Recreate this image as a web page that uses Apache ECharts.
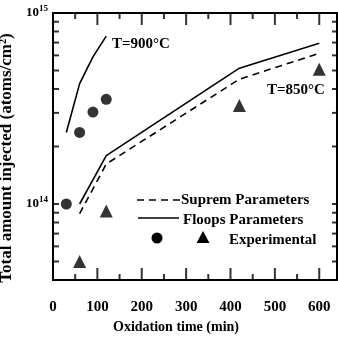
<!DOCTYPE html>
<html>
<head>
<meta charset="utf-8">
<script src="https://cdn.jsdelivr.net/npm/echarts@6/dist/echarts.min.js"></script>
<style>
html,body{margin:0;padding:0;background:#fff;}
#chart{width:338px;height:350px;}
</style>
</head>
<body>
<div id="chart"></div>
<script>
// ---- data ----
const xLabelValues = [0, 100, 200, 300, 400, 500, 600];
const xMajorTicks = [100, 200, 300, 400, 500, 600];
const xMinorTicks = [50, 150, 250, 350, 450, 550];
const yLabelValues = [1e14, 1e15];
const yTickValues = [5e13, 6e13, 7e13, 8e13, 9e13, 1e14, 2e14, 3e14, 4e14, 5e14, 6e14, 7e14, 8e14, 9e14];

const time850 = [60, 120, 420, 600];
const suprem850 = [8.9e13, 1.62e14, 4.5e14, 6.15e14];
const floops850 = [1.0e14, 1.79e14, 5.14e14, 6.95e14];

const time900 = [30, 60, 90, 120];
const floops900 = [2.37e14, 4.27e14, 5.89e14, 7.57e14];

const expTime900 = [30, 60, 90, 120];
const exp900 = [1.0e14, 2.37e14, 3.03e14, 3.53e14];

const expTime850 = [60, 120, 420, 600];
const exp850 = [5.0e13, 9.2e13, 3.28e14, 5.07e14];

const X_MIN = 0, X_MAX = 640, Y_MIN = 4e13, Y_MAX = 1e15;

const zip = (a, b) => a.map((v, i) => [v, b[i]]);

const FONT = 'Liberation Serif';
const black = '#000';
const LINE = { color: black, width: 2 };

const xAxes = [
  {
    type: 'value', position: 'bottom', min: X_MIN, max: X_MAX,
    axisLine: { show: true, onZero: false, lineStyle: LINE },
    axisTick: { show: false },
    axisLabel: { show: true, customValues: xLabelValues, margin: 20,
      fontFamily: FONT, fontWeight: 'bold', fontSize: 15, color: black },
    splitLine: { show: false },
    name: 'Oxidation time (min)', nameLocation: 'middle', nameGap: 36,
    nameTextStyle: { fontFamily: FONT, fontWeight: 'bold', fontSize: 14, color: black, padding: [0, 38, 0, 0] }
  },
  {
    type: 'value', position: 'top', min: X_MIN, max: X_MAX,
    axisLine: { show: true, onZero: false, lineStyle: LINE },
    axisTick: { show: false }, axisLabel: { show: false }, splitLine: { show: false }
  }
];

const yAxes = [
  {
    type: 'log', logBase: 10, position: 'left', min: Y_MIN, max: Y_MAX,
    axisLine: { show: true, onZero: false, lineStyle: LINE },
    axisTick: { show: false },
    axisLabel: {
      show: true, customValues: yLabelValues.map(v => v * 0.99999), margin: 5,
      formatter: v => '{b|10}{s|' + Math.round(Math.log10(v)) + '}',
      rich: {
        b: { fontFamily: FONT, fontWeight: 'bold', fontSize: 13, color: black },
        s: { fontFamily: FONT, fontWeight: 'bold', fontSize: 9, color: black, padding: [0, 0, 8, 0] }
      }
    },
    splitLine: { show: false },
    name: 'Total amount injected (atoms/cm²)', nameLocation: 'middle', nameGap: 28,
    nameTextStyle: { fontFamily: FONT, fontWeight: 'bold', fontSize: 17, color: black, padding: [0, 23, 0, 0] }
  },
  {
    type: 'log', logBase: 10, position: 'right', min: Y_MIN, max: Y_MAX,
    axisLine: { show: true, onZero: false, lineStyle: LINE },
    axisTick: { show: false }, axisLabel: { show: false }, splitLine: { show: false }
  }
];

// inward tick marks drawn as thin rectangle symbols placed by the axes' own scales
function tickSeries(data, size, offset) {
  return {
    type: 'scatter', silent: true, clip: false, z: 6,
    symbol: 'rect', symbolSize: size, symbolOffset: offset,
    itemStyle: { color: black }, data: data
  };
}

const TXT = 'bold 15px "Liberation Serif"';
const chart = echarts.init(document.getElementById('chart'), null, { renderer: 'canvas' });
chart.setOption({
  backgroundColor: '#fff',
  animation: false,
  grid: { left: 53, right: 1, top: 13, bottom: 70, outerBoundsMode: 'none', containLabel: false },
  xAxis: xAxes,
  yAxis: yAxes,
  graphic: [
    { type: 'text', left: 112, top: 37, style: { text: 'T=900°C', font: TXT, fill: black } },
    { type: 'text', left: 267, top: 83, style: { text: 'T=850°C', font: TXT, fill: black } },
    // legend
    { type: 'line', shape: { x1: 137, y1: 200, x2: 180, y2: 200 }, style: { stroke: black, lineWidth: 1.6, lineDash: [7, 5] } },
    { type: 'text', left: 181, top: 193, style: { text: 'Suprem Parameters', font: TXT, fill: black } },
    { type: 'line', shape: { x1: 138, y1: 218, x2: 179, y2: 218 }, style: { stroke: black, lineWidth: 1.6 } },
    { type: 'text', left: 183, top: 213, style: { text: 'Floops Parameters', font: TXT, fill: black } },
    { type: 'circle', shape: { cx: 157, cy: 238, r: 5.5 }, style: { fill: black } },
    { type: 'polygon', shape: { points: [[203, 231], [209.5, 243], [196.5, 243]] }, style: { fill: black } },
    { type: 'text', left: 229, top: 233, style: { text: 'Experimental', font: TXT, fill: black } }
  ],
  series: [
    tickSeries(xMajorTicks.map(v => [v, Y_MIN]), [2, 12], [0, -6]),
    tickSeries(xMinorTicks.map(v => [v, Y_MIN]), [2, 6], [0, -3]),
    tickSeries(xMajorTicks.map(v => [v, Y_MAX]), [2, 12], [0, 6]),
    tickSeries(xMinorTicks.map(v => [v, Y_MAX]), [2, 6], [0, 3]),
    tickSeries(yTickValues.map(v => [X_MIN, v]), [6, 2], [3, 0]),
    tickSeries(yTickValues.map(v => [X_MAX, v]), [5, 2], [-2.5, 0]),
    { name: 'Suprem Parameters', type: 'line', symbol: 'none', data: zip(time850, suprem850),
      lineStyle: { color: black, width: 1.6, type: [7, 5] } },
    { name: 'Floops Parameters', type: 'line', symbol: 'none', data: zip(time850, floops850),
      lineStyle: { color: black, width: 1.6 } },
    { name: 'Floops Parameters 900', type: 'line', symbol: 'none', data: zip(time900, floops900),
      lineStyle: { color: black, width: 1.6 } },
    { name: 'Experimental 900', type: 'scatter', symbol: 'circle', symbolSize: 11, data: zip(expTime900, exp900),
      itemStyle: { color: black } },
    { name: 'Experimental 850', type: 'scatter', symbol: 'triangle', symbolSize: 13, data: zip(expTime850, exp850),
      itemStyle: { color: black } }
  ]
});
</script>
</body>
</html>
